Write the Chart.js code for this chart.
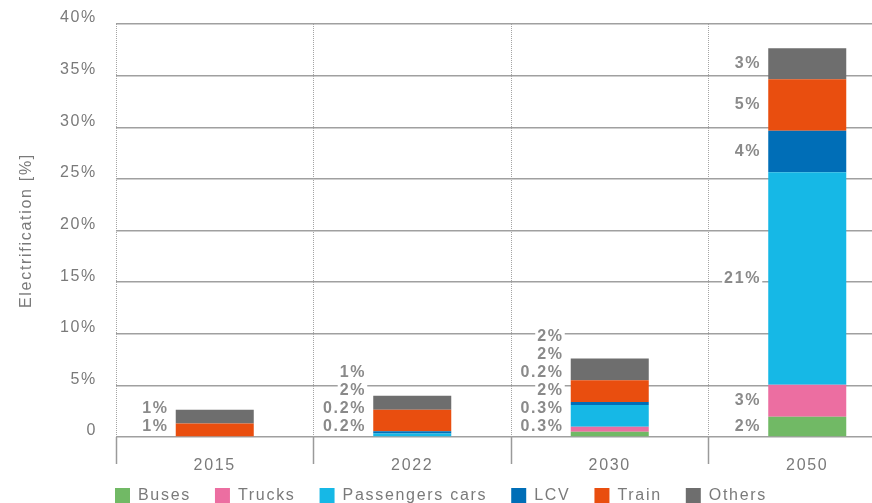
<!DOCTYPE html>
<html>
<head>
<meta charset="utf-8">
<script src="https://cdn.jsdelivr.net/npm/chart.js@4/dist/chart.umd.min.js"></script>
<style>
  html, body { margin: 0; padding: 0; background: #fff; overflow: hidden; }
</style>
</head>
<body>
<canvas id="barChart" width="906" height="503"></canvas>
<script>
// categories
const years = ['2015', '2022', '2030', '2050'];

// bar heights in %
const buses      = [0,    0,    0.5,  1.95];
const trucks     = [0,    0,    0.5,  3.1];
const passengers = [0,    0.35, 2.1,  20.6];
const lcv        = [0,    0.2,  0.3,  4.0];
const train      = [1.3,  2.1,  2.1,  5.0];
const others     = [1.35, 1.35, 2.1,  3.0];

// value labels printed next to each segment
const busesLabels      = ['',   '',     '0.3%', '2%'];
const trucksLabels     = ['',   '',     '0.3%', '3%'];
const passengersLabels = ['',   '0.2%', '2%',   '21%'];
const lcvLabels        = ['',   '0.2%', '0.2%', '4%'];
const trainLabels      = ['1%', '2%',   '2%',   '5%'];
const othersLabels     = ['1%', '1%',   '2%',   '3%'];

// y axis tick labels
const yTickLabels = ['0', '5%', '10%', '15%', '20%', '25%', '30%', '35%', '40%'];

const seriesLabels = [busesLabels, trucksLabels, passengersLabels, lcvLabels, trainLabels, othersLabels];

const FONT = '"Liberation Sans", Arial, sans-serif';
Chart.defaults.font.family = FONT;

// the original has loose tracking on all text
const tracking = {
  id: 'tracking',
  beforeUpdate(chart) { chart.ctx.letterSpacing = '1.7px'; },
  beforeDraw(chart) { chart.ctx.letterSpacing = '1.7px'; }
};

// labels to the left of each stack, pushed upward so they don't collide
const stackLabels = {
  id: 'stackLabels',
  afterDatasetsDraw(chart) {
    const ctx = chart.ctx;
    ctx.save();
    ctx.font = 'bold 16px ' + FONT;
    ctx.textAlign = 'right';
    ctx.textBaseline = 'middle';
    const base = chart.scales.y.getPixelForValue(0);
    years.forEach((yr, i) => {
      let prev = base + 8;
      chart.data.datasets.forEach((ds, d) => {
        const txt = seriesLabels[d][i];
        if (!txt) return;
        const bar = chart.getDatasetMeta(d).data[i];
        const mid = (bar.y + bar.base) / 2;
        const y = Math.min(mid, prev - 18);
        prev = y;
        const x = bar.x - bar.width / 2 - 7;
        const w = ctx.measureText(txt).width;
        ctx.fillStyle = '#fff';
        ctx.fillRect(x - w - 2, y - 8, w + 3, 16);
        ctx.fillStyle = '#8a8a8a';
        ctx.fillText(txt, x, y);
      });
    });
    ctx.restore();
  }
};

new Chart(document.querySelector('#barChart'), {
  type: 'bar',
  data: {
    labels: years,
    datasets: [
      { label: 'Buses', data: buses, backgroundColor: '#71b965' },
      { label: 'Trucks', data: trucks, backgroundColor: '#ec6ea1' },
      { label: 'Passengers cars', data: passengers, backgroundColor: '#16b8e6' },
      { label: 'LCV', data: lcv, backgroundColor: '#006eb7' },
      { label: 'Train', data: train, backgroundColor: '#e94e0f' },
      { label: 'Others', data: others, backgroundColor: '#6e6e6e' }
    ]
  },
  options: {
    responsive: false,
    animation: false,
    datasets: { bar: { barPercentage: 0.395, categoryPercentage: 1, borderWidth: 0 } },
    // negative left padding keeps the legend centred like the original
    layout: { padding: { top: 24, right: 0, left: -24, bottom: -11 } },
    plugins: {
      tooltip: { enabled: false },
      legend: {
        position: 'bottom',
        align: 'center',
        labels: { boxWidth: 15, boxHeight: 16, padding: 24, color: '#7a7a7a', font: { size: 16 } }
      }
    },
    scales: {
      x: {
        stacked: true,
        offset: true,
        grid: { offset: true, color: '#a4a4a4', lineWidth: 1, tickColor: '#9a9a9a', tickLength: 27, tickWidth: 1.5, tickBorderDash: [] },
        border: { display: false, dash: [1, 1] },
        ticks: { color: '#7a7a7a', font: { size: 16 }, padding: -8 },
        afterFit: s => {
          s.height = 27;
          s._computeLabelArea = () => null; // let the year labels hang below the axis box
        }
      },
      y: {
        stacked: true,
        min: 0,
        max: 40,
        ticks: {
          stepSize: 5,
          color: '#7a7a7a',
          font: { size: 16 },
          padding: 19,
          labelOffset: -6,
          callback: (v, i) => yTickLabels[i]
        },
        grid: { color: '#a0a0a0', lineWidth: 1.5, drawTicks: false },
        border: { display: false },
        title: { display: true, text: 'Electrification [%]', color: '#7a7a7a', font: { size: 16 }, padding: { top: 41, bottom: 0 } },
        afterFit: s => {
          s.width = 140;
          s.paddingTop = 0;
          s.paddingBottom = 0;
        }
      }
    }
  },
  plugins: [tracking, stackLabels]
});
</script>
</body>
</html>
